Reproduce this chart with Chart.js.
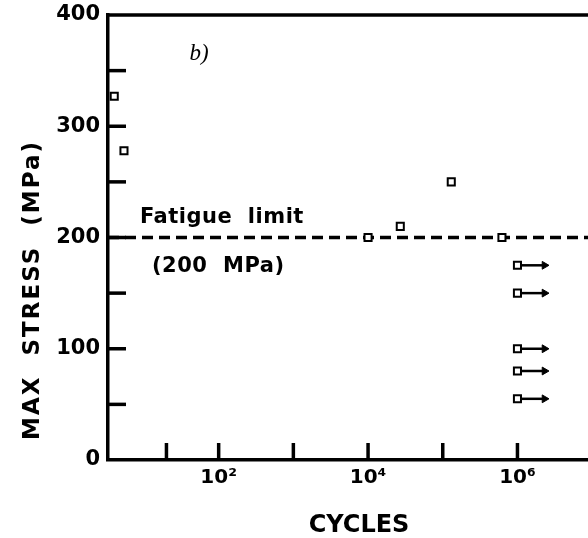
<!DOCTYPE html>
<html><head><meta charset="utf-8">
<script src="https://cdn.jsdelivr.net/npm/chart.js@4.4.1/dist/chart.umd.min.js"></script>
<style>html,body{margin:0;padding:0;background:#fff;}canvas{display:block;}</style>
</head><body>
<canvas id="c" width="588" height="538"></canvas>
<script>
// ---- data ----
const failCycles = [4.0, 5.4, 1.0e4, 2.7e4, 1.3e5, 6.2e5];
const failStress = [327, 278, 200, 210, 250, 200];
const runoutCycles = [1e6, 1e6, 1e6, 1e6, 1e6];
const runoutStress = [175, 150, 100, 80, 55];
const arrowEndCycles = 2.3e6;
const fatigueLimit = 200;
const xTickValues = [20, 1e2, 1e3, 1e4, 1e5, 1e6];
const xTickLabels = ['', '10²', '', '10⁴', '', '10⁶'];
const yTickValues = [0, 50, 100, 150, 200, 250, 300, 350, 400];
const yTickLabels = ['0', '', '100', '', '200', '', '300', '', '400'];
const xRange = [3.3, 8.8e6];
const yRange = [0, 400];

const ink = '#000';
const boldFont = 'DejaVu Sans';

const sq = {
  showLine: false, pointStyle: 'rect', pointRadius: 5, pointHoverRadius: 5,
  pointBorderWidth: 2, pointBackgroundColor: '#fff', pointBorderColor: ink, order: 0
};

const datasets = [
  Object.assign({ label: 'failed', data: failCycles.map((c, i) => ({ x: c, y: failStress[i] })) }, sq),
  Object.assign({ label: 'runout', data: runoutCycles.map((c, i) => ({ x: c, y: runoutStress[i] })) }, sq),
  ...runoutCycles.map((c, i) => ({
    label: 'arrow' + i,
    data: [{ x: c, y: runoutStress[i] }, { x: arrowEndCycles, y: runoutStress[i] }],
    showLine: true, borderColor: ink, borderWidth: 2.5,
    pointRadius: [0, 4.5], pointHoverRadius: [0, 4.5], pointStyle: 'triangle', pointRotation: 90,
    pointBackgroundColor: ink, pointBorderColor: ink, pointBorderWidth: 1, order: 1
  })),
  {
    label: 'limit',
    data: [{ x: xRange[0], y: fatigueLimit }, { x: xRange[1], y: fatigueLimit }],
    showLine: true, borderColor: ink, borderWidth: 3.5, borderDash: [11, 6],
    pointRadius: 0, pointHoverRadius: 0, order: 2
  }
];

const zeroPad = s => { s.paddingTop = 0; s.paddingBottom = 0; s.paddingLeft = 0; s.paddingRight = 0; };

const decor = {
  id: 'decor',
  afterDraw(chart) {
    const { ctx, chartArea: a, scales: { x, y } } = chart;
    ctx.save();
    ctx.strokeStyle = ink; ctx.lineWidth = 3.5; ctx.lineCap = 'butt';
    ctx.beginPath(); ctx.moveTo(a.left - 1.75, a.top); ctx.lineTo(a.right, a.top); ctx.stroke();
    y.ticks.forEach(t => {
      if (t.value <= yRange[0] || t.value >= yRange[1]) return;
      const p = y.getPixelForValue(t.value);
      ctx.beginPath(); ctx.moveTo(a.left, p); ctx.lineTo(a.left + 18, p); ctx.stroke();
    });
    x.ticks.forEach(t => {
      const p = x.getPixelForValue(t.value);
      ctx.beginPath(); ctx.moveTo(p, a.bottom); ctx.lineTo(p, a.bottom - 17); ctx.stroke();
    });
    ctx.fillStyle = ink;
    ctx.textBaseline = 'alphabetic';
    // panel letter
    ctx.font = 'italic 23px "Liberation Serif"';
    ctx.textAlign = 'center';
    ctx.fillText('b)', 199, 60);
    // fatigue limit annotation
    ctx.textAlign = 'left';
    ctx.font = 'bold 21px "' + boldFont + '"';
    if ('letterSpacing' in ctx) ctx.letterSpacing = '0.5px';
    ctx.fillText('Fatigue  limit', 140, 223);
    ctx.fillText('(200  MPa)', 152, 272);
    // x title
    ctx.textAlign = 'center';
    ctx.font = 'bold 24px "' + boldFont + '"';
    if ('letterSpacing' in ctx) ctx.letterSpacing = '0px';
    ctx.fillText('CYCLES', 359, 532);
    // y title
    ctx.translate(39, 290);
    ctx.rotate(-Math.PI / 2);
    ctx.font = 'bold 23px "' + boldFont + '"';
    if ('letterSpacing' in ctx) ctx.letterSpacing = '2px';
    ctx.fillText('MAX  STRESS  (MPa)', 0, 0);
    ctx.restore();
  }
};

new Chart(document.getElementById('c'), {
  type: 'scatter',
  data: { datasets },
  plugins: [decor],
  options: {
    responsive: false, animation: false, devicePixelRatio: 1,
    layout: { autoPadding: false, padding: { top: 15, right: 0, bottom: 0, left: 0 } },
    plugins: { legend: { display: false }, tooltip: { enabled: false } },
    events: [],
    scales: {
      x: {
        type: 'logarithmic', position: 'bottom', min: xRange[0], max: xRange[1],
        afterBuildTicks: s => { s.ticks = xTickValues.map(v => ({ value: v })); },
        afterFit: s => { s.height = 78; zeroPad(s); },
        ticks: {
          autoSkip: false, maxRotation: 0, minRotation: 0, padding: 6, color: ink,
          font: { family: boldFont, weight: 'bold', size: 20 },
          callback: (v, i) => xTickLabels[i]
        },
        grid: { display: true, drawOnChartArea: false, drawTicks: false },
        border: { display: true, color: ink, width: 3.5 }
      },
      y: {
        type: 'linear', position: 'left', min: yRange[0], max: yRange[1],
        afterBuildTicks: s => { s.ticks = yTickValues.map(v => ({ value: v })); },
        afterFit: s => { s.width = 108; zeroPad(s); },
        ticks: {
          autoSkip: false, padding: 8, color: ink,
          font: { family: boldFont, weight: 'bold', size: 21 },
          callback: (v, i) => yTickLabels[i]
        },
        grid: { display: true, drawOnChartArea: false, drawTicks: false },
        border: { display: true, color: ink, width: 3.5 }
      }
    }
  }
});
</script>
</body></html>
